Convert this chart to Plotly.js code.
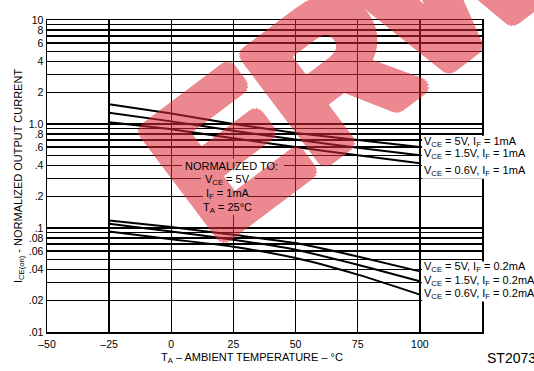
<!DOCTYPE html>
<html>
<head>
<meta charset="utf-8">
<script src="https://cdn.plot.ly/plotly-3.0.1.min.js"></script>
<style>html,body{margin:0;padding:0;background:#fff;}#chart{width:534px;height:371px;}</style>
</head>
<body>
<div id="chart"></div>
<script>
// Temperatures (°C)
const temps = [-25, 0, 25, 50, 75, 100];
// IF = 1 mA series (normalized output current)
const vce5_if1   = [1.55, 1.26, 1.00, 0.82, 0.70, 0.60];
const vce15_if1  = [1.28, 1.06, 0.86, 0.71, 0.59, 0.50];
const vce06_if1  = [1.04, 0.89, 0.73, 0.60, 0.50, 0.42];
// IF = 0.2 mA series
const vce5_if02  = [0.118, 0.102, 0.086, 0.0716, 0.0532, 0.0383];
const vce15_if02 = [0.110, 0.0925, 0.077, 0.0618, 0.0443, 0.0307];
const vce06_if02 = [0.0925, 0.078, 0.066, 0.0514, 0.0356, 0.0229];

const seriesNames = [
  "V<sub>CE</sub> = 5V, I<sub>F</sub> = 1mA",
  "V<sub>CE</sub> = 1.5V, I<sub>F</sub> = 1mA",
  "V<sub>CE</sub> = 0.6V, I<sub>F</sub> = 1mA",
  "V<sub>CE</sub> = 5V, I<sub>F</sub> = 0.2mA",
  "V<sub>CE</sub> = 1.5V, I<sub>F</sub> = 0.2mA",
  "V<sub>CE</sub> = 0.6V, I<sub>F</sub> = 0.2mA"
];
const seriesData = [vce5_if1, vce15_if1, vce06_if1, vce5_if02, vce15_if02, vce06_if02];
// label positions (log10 units)
const labelY = [-0.175, -0.29, -0.45, -1.375, -1.505, -1.635];

// Axis ticks
const xTickVals = [-50, -25, 0, 25, 50, 75, 100, 125];
const xTickText = ["\u201350", "\u201325", "0", "25", "50", "75", "100", ""];
const yTickVals = [0.01,0.02,0.03,0.04,0.05,0.06,0.07,0.08,0.09,
                   0.1,0.2,0.3,0.4,0.5,0.6,0.7,0.8,0.9,
                   1,2,3,4,5,6,7,8,9,10];
const yTickText = [".01",".02","",".04","",".06","",".08","",
                   ".1",".2","",".4","",".6","",".8","",
                   "1.0","2","","4","","6","","8","","10"];

// Normalization note lines
const noteLines = ["NORMALIZED TO:", "V<sub>CE</sub> = 5V", "I<sub>F</sub> = 1mA", "T<sub>A</sub> = 25°C"];

const FONT = "Liberation Sans, Arial, Helvetica, sans-serif";

const traces = seriesData.map((ys, i) => ({
  x: temps, y: ys, type: "scatter", mode: "lines",
  line: {color: "#000", width: 2, shape: "spline", smoothing: 0.6},
  name: seriesNames[i], showlegend: false, hoverinfo: "skip"
}));

const W = 534, H = 371, mL = 47, mR = 52, mT = 20, mB = 38.5;
const px2paperX = p => (p - mL) / (W - mL - mR);
const px2paperY = p => 1 - (p - mT) / (H - mT - mB);

// white boxes behind texts (under the watermark), in pixel layout
const whiteBoxes = [
  [182, 159, 284, 172], [201, 172, 255, 187], [203, 187, 249, 201], [201, 201, 255, 215],
  [422, 136, 534, 179], [422, 262, 534, 302]
];
const shapes = whiteBoxes.map(b => ({
  type: "rect", xref: "paper", yref: "paper", layer: "above",
  x0: px2paperX(b[0]), x1: px2paperX(b[2]), y0: px2paperY(b[3]), y1: px2paperY(b[1]),
  fillcolor: "#fff", line: {width: 0}
}));

// watermark thickening shadow
const wmColor = "rgb(220,40,55)";
const sh = [];
for (let k = 0; k < 16; k++) {
  const a = k * Math.PI / 8;
  sh.push((8 * Math.cos(a)).toFixed(1) + "px " + (8 * Math.sin(a)).toFixed(1) + "px 0 " + wmColor);
}
for (let k = 0; k < 8; k++) {
  const a = k * Math.PI / 4 + Math.PI / 8;
  sh.push((4 * Math.cos(a)).toFixed(1) + "px " + (4 * Math.sin(a)).toFixed(1) + "px 0 " + wmColor);
}

const annotations = [
  {x: px2paperX(350), y: px2paperY(58), xref: "paper", yref: "paper", xanchor: "center", yanchor: "middle",
   text: "ERW", showarrow: false, textangle: -37, opacity: 0.55,
   font: {family: FONT, size: 190, color: wmColor, weight: "bold", shadow: sh.join(", ")}}
];

seriesNames.forEach((t, i) => annotations.push({
  x: 101, y: labelY[i], xref: "x", yref: "y", xanchor: "left", yanchor: "middle",
  text: t, showarrow: false, font: {family: FONT, size: 11, color: "#000"}
}));

const noteFont = {family: FONT, size: 11, color: "#000"};
const notePos = [[24.4, -0.403], [22.8, -0.535], [22.8, -0.67], [22.8, -0.812]];
noteLines.forEach((t, i) => annotations.push({
  x: notePos[i][0], y: notePos[i][1], xref: "x", yref: "y", text: t, showarrow: false, font: noteFont
}));

annotations.push(
  {x: px2paperX(252), y: px2paperY(359), xref: "paper", yref: "paper", xanchor: "center", yanchor: "middle",
   text: "T<sub>A</sub> \u2013 AMBIENT TEMPERATURE \u2013 °C", showarrow: false, font: {family: FONT, size: 11, color: "#000"}},
  {x: px2paperX(485), y: px2paperY(359), xref: "paper", yref: "paper", xanchor: "left", yanchor: "middle",
   text: "ST2073", showarrow: false, font: {family: FONT, size: 14, color: "#000"}}
);

const layout = {
  width: W, height: H,
  margin: {l: mL, r: mR, t: mT, b: mB, pad: 0},
  paper_bgcolor: "#fff", plot_bgcolor: "#fff",
  font: {family: FONT, color: "#000"},
  showlegend: false,
  xaxis: {
    range: [-50, 125], tickvals: xTickVals, ticktext: xTickText,
    showgrid: true, gridcolor: "#000", gridwidth: 1.3,
    showline: true, linecolor: "#000", linewidth: 1.5, mirror: true,
    ticks: "", zeroline: false, ticklabelstandoff: 2, tickfont: {family: FONT, size: 10.5}
  },
  yaxis: {
    type: "log", range: [-2, 1], tickvals: yTickVals, ticktext: yTickText,
    showgrid: true, gridcolor: "#000", gridwidth: 1.3,
    showline: true, linecolor: "#000", linewidth: 1.5, mirror: true,
    ticks: "", zeroline: false, tickfont: {family: FONT, size: 10.5},
    title: {text: "I<sub>CE(on)</sub> - NORMALIZED OUTPUT CURRENT", font: {family: FONT, size: 11}, standoff: 4}
  },
  shapes: shapes,
  annotations: annotations
};

Plotly.newPlot("chart", traces, layout, {staticPlot: true, displayModeBar: false});
</script>
</body>
</html>
